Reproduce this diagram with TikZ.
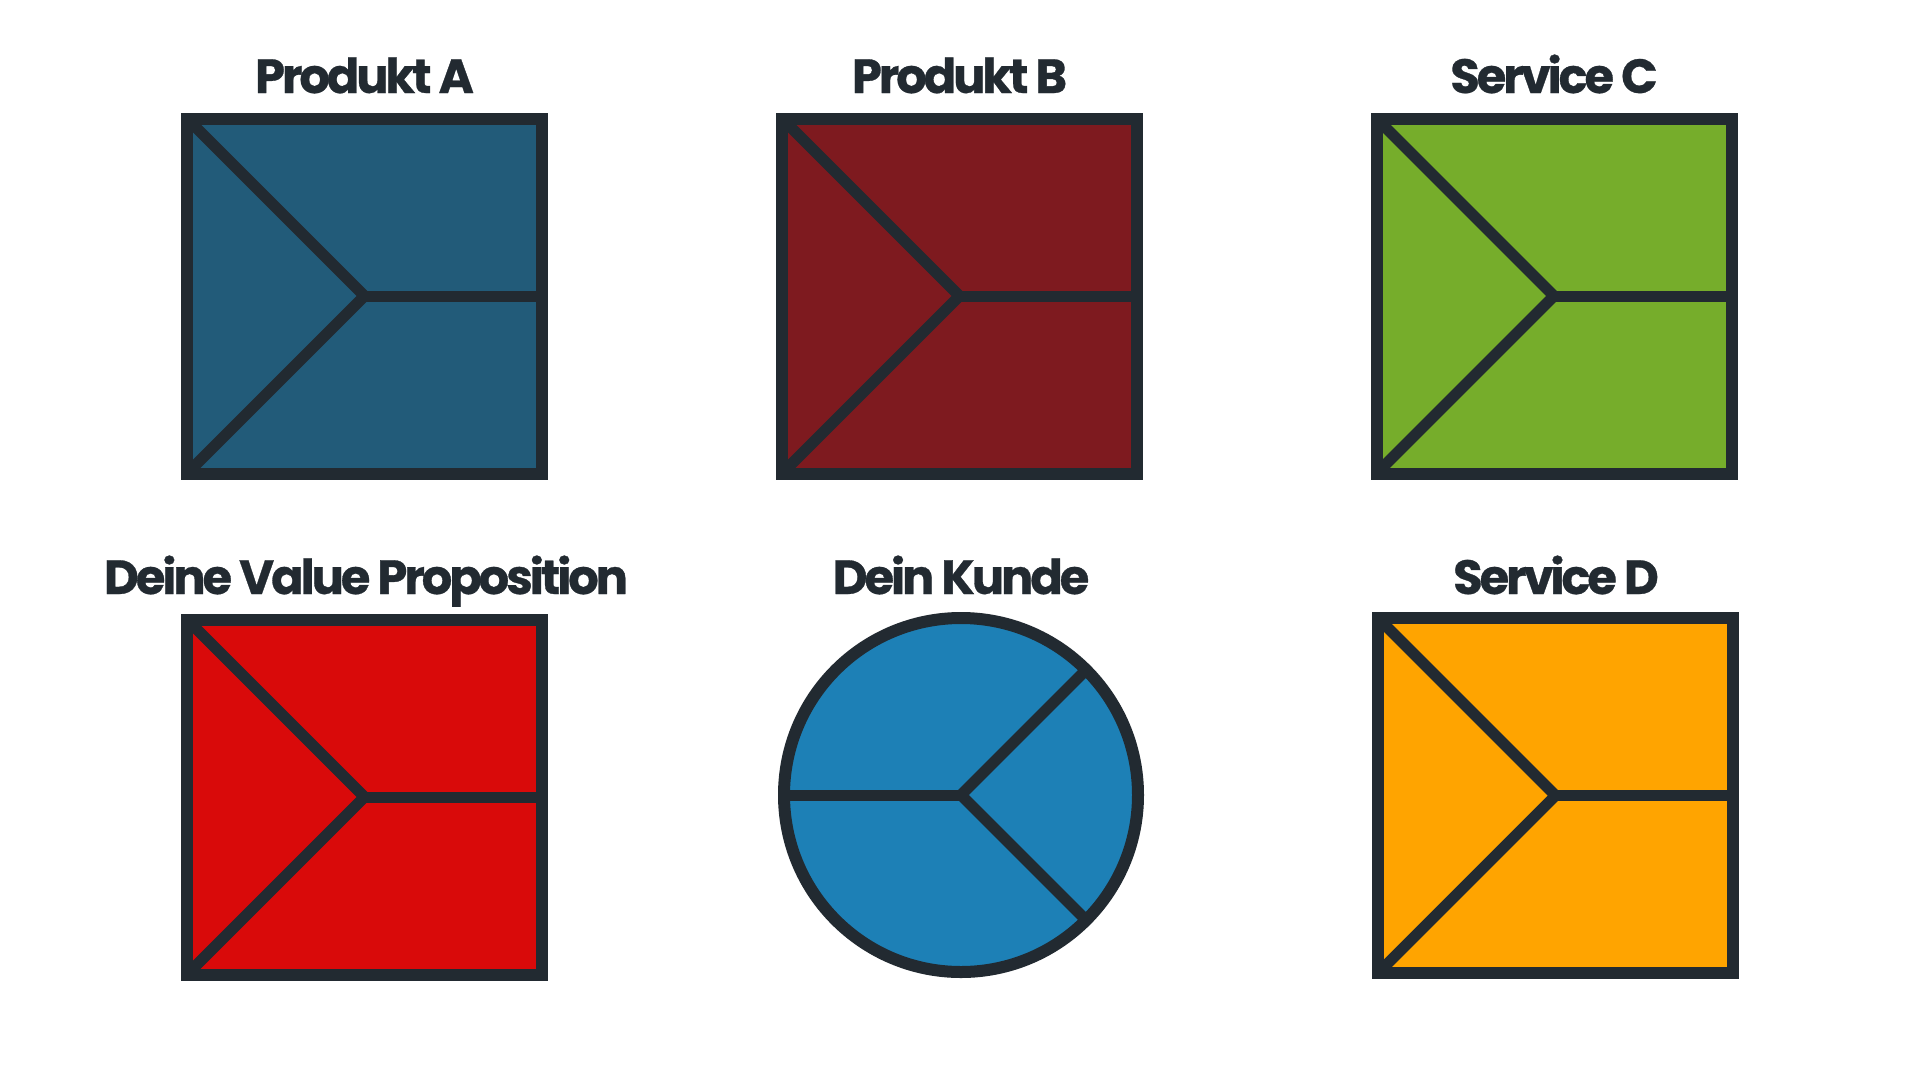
\documentclass[tikz,border=0pt]{standalone}
\usepackage{fontspec}
\setmainfont{Poppins}[LetterSpace=-6.5, BoldFeatures={FakeBold=0.6}]
\definecolor{ink}{HTML}{222A31}
\definecolor{cA}{HTML}{225B79}
\definecolor{cB}{HTML}{7E1A1F}
\definecolor{cC}{HTML}{76AD2B}
\definecolor{cVP}{HTML}{D90A0A}
\definecolor{cK}{HTML}{1D80B6}
\definecolor{cD}{HTML}{FFA400}
\tikzset{
  title/.style={anchor=base, text=ink, inner sep=0pt, font=\fontsize{48}{48}\selectfont\bfseries},
  border/.style={draw=ink, line width=12pt, line join=miter},
  divider/.style={draw=ink, line width=11pt},
}
\newcommand{\segbox}[4]{% name, cx, cy, colour
  \coordinate (#1c) at (#2,#3);
  \coordinate (#1tl) at ($(#1c)+(-177.5,-177.5)$);
  \coordinate (#1bl) at ($(#1c)+(-177.5,177.5)$);
  \coordinate (#1tr) at ($(#1c)+(177.5,-177.5)$);
  \coordinate (#1br) at ($(#1c)+(177.5,177.5)$);
  \coordinate (#1r) at ($(#1c)+(177.5,0)$);
  \fill[#4] (#1tl) rectangle (#1br);
  \draw[divider] (#1tl) -- (#1c) -- (#1bl);
  \draw[divider] (#1c) -- (#1r);
  \draw[border] (#1tl) rectangle (#1br);
}
\usetikzlibrary{calc}
\begin{document}
\begin{tikzpicture}[x=1pt,y=-1pt]
\useasboundingbox (0,0) rectangle (1920,1080);
\fill[white] (0,0) rectangle (1920,1080);

\segbox{A}{364.5}{296}{cA}
\segbox{B}{959.5}{296}{cB}
\segbox{C}{1554}{296}{cC}
\segbox{V}{364.5}{797}{cVP}
\segbox{D}{1555.5}{795.5}{cD}

% customer circle
\coordinate (Kc) at (961,795);
\fill[cK] (Kc) circle[radius=177];
\coordinate (Kl) at ($(Kc)+(-177,0)$);
\coordinate (Kur) at ($(Kc)+(125.2,-125.2)$);
\coordinate (Klr) at ($(Kc)+(125.2,125.2)$);
\draw[divider] (Kl) -- (Kc);
\draw[divider] (Kur) -- (Kc) -- (Klr);
\draw[border] (Kc) circle[radius=177];

\node[title] (tA) at (364.5,93) {Produkt A};
\node[title] (tB) at (959.5,93) {Produkt B};
\node[title] (tC) at (1554,93) {Service C};
\node[title] (tV) at (366,594) {Deine Value Proposition};
\node[title] (tK) at (961,594) {Dein Kunde};
\node[title] (tD) at (1556,594) {Service D};
\end{tikzpicture}
\end{document}
